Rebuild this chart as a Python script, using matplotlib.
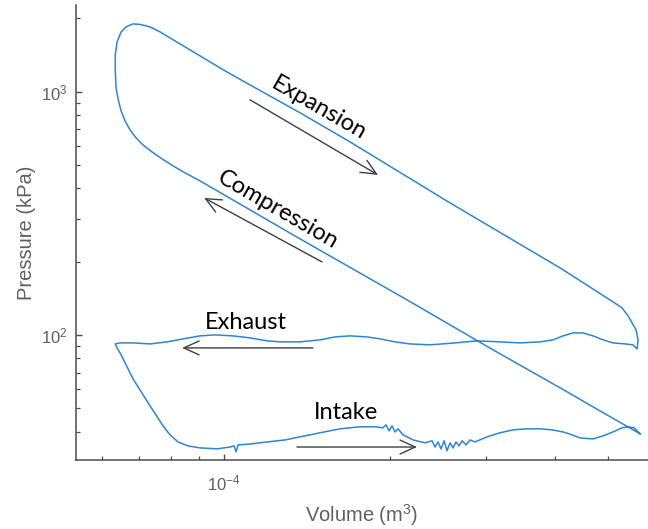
import matplotlib
matplotlib.use("Agg")
import matplotlib.pyplot as plt
from matplotlib.ticker import LogLocator, NullFormatter, LogFormatterSciNotation

plt.rcParams['mathtext.fontset'] = 'custom'
plt.rcParams['mathtext.rm'] = 'Liberation Sans'
plt.rcParams['mathtext.it'] = 'Liberation Sans:italic'
plt.rcParams['font.family'] = ['Liberation Sans', 'DejaVu Sans']

# ---- data: P-V loop (volume in 1e-4 m^3, pressure in kPa), cycle order ----
comp_V = [5.707, 4.827, 4.083, 3.084, 2.151, 1.375, 0.9045, 0.8493, 0.8078, 0.7714,
          0.7396, 0.7122, 0.6918, 0.6746, 0.6607, 0.6498, 0.642, 0.636, 0.634, 0.634,
          0.639, 0.650, 0.6634, 0.6831]
comp_P = [39.2, 48.7, 60.6, 86.8, 139.3, 248.0, 429.5, 463.3, 495.1, 528.9,
          565.1, 603.8, 645.2, 696.0, 757.9, 833.1, 924.7, 1045.5, 1228.0, 1415.0,
          1601.0, 1760.0, 1845.0, 1898.0]

exp_V = [0.6831, 0.7034, 0.7335, 0.7648, 0.7977, 0.8493, 0.9045, 1.0042, 1.115, 1.375,
         1.695, 2.576, 4.083, 5.096, 5.292, 5.427, 5.612, 5.660, 5.636]
exp_P = [1898.0, 1889.0, 1845.0, 1760.0, 1662.0, 1527.0, 1402.0, 1217.0, 1065.0, 818.0,
         621.0, 348.7, 188.5, 136.7, 129.1, 119.7, 104.9, 95.4, 87.6]

exh_V = [5.541, 5.360, 5.096, 4.888, 4.688, 4.495, 4.311, 4.135, 3.965, 3.754,
         3.453, 3.176, 2.884, 2.630, 2.369, 2.179, 2.046, 1.921, 1.820, 1.695,
         1.591, 1.495, 1.375, 1.264, 1.197, 1.115, 1.038, 0.963, 0.9045, 0.842,
         0.788, 0.7335, 0.6831, 0.647, 0.634]
exh_P = [91.0, 91.8, 92.7, 95.4, 99.06, 101.9, 101.9, 99.06, 95.4, 93.6,
         92.7, 93.6, 94.5, 92.7, 91.0, 91.8, 93.6, 96.3, 98.1, 99.06,
         98.1, 95.4, 93.6, 93.6, 94.5, 97.2, 99.06, 100.0, 99.06, 96.3,
         93.6, 91.8, 92.7, 92.7, 91.8]

int_V = [0.6390, 0.6498, 0.6831, 0.7335, 0.7745, 0.7977, 0.8249, 0.8603, 0.9045, 0.9711,
         1.0254, 1.0428, 1.0515, 1.0604, 1.115, 1.197, 1.2911, 1.375, 1.4951, 1.625,
         1.767, 1.8817, 1.945, 1.9706, 1.9953, 2.0206, 2.0461, 2.0720, 2.1158, 2.206,
         2.3203, 2.3889, 2.4189, 2.4495, 2.4804, 2.5119, 2.5436, 2.576, 2.6084, 2.6413,
         2.6748, 2.7085, 2.7542, 2.8007, 2.8601, 3.007, 3.176, 3.354, 3.5563, 3.754,
         3.9486, 4.135, 4.2933, 4.439, 4.688, 4.888, 5.096, 5.292, 5.427, 5.565, 5.707]
int_P = [88.4, 82.8, 65.95, 51.07, 42.27, 38.82, 36.3, 34.96, 34.31, 34.0,
         34.6, 34.96, 33.05, 35.3, 35.6, 36.3, 37.0, 38.1, 39.6, 41.1,
         41.9, 41.9, 41.5, 42.67, 40.3, 42.27, 39.9, 41.1, 38.82, 37.0,
         36.0, 36.7, 34.6, 36.3, 34.0, 36.7, 33.4, 36.0, 34.31, 36.3,
         34.96, 36.7, 35.3, 37.0, 36.3, 38.1, 39.6, 40.7, 41.1, 41.1,
         40.7, 39.9, 38.82, 37.7, 37.36, 38.45, 39.9, 41.5, 41.9, 41.5, 39.2]

V_all = [v * 1e-4 for v in comp_V + exp_V + exh_V + int_V]
P_all = comp_P + exp_P + exh_P + int_P

# ---- figure ----
fig = plt.figure(figsize=(6.48, 5.29), dpi=100)
ax = fig.add_axes([76/648, 69/529, (648-76)/648, (460-5)/529])

ax.plot(V_all, P_all, color='#2f86d0', lw=1.1, solid_joinstyle='round')

ax.set_xscale('log')
ax.set_yscale('log')
ax.set_xlim(5.38e-5, 5.9e-4)
ax.set_ylim(30.6, 2270)

for s in ['top', 'right']:
    ax.spines[s].set_visible(False)
for s in ['left', 'bottom']:
    ax.spines[s].set_color('#4d4d4d')
    ax.spines[s].set_linewidth(1.1)

ax.xaxis.set_major_locator(LogLocator(base=10))
ax.yaxis.set_major_locator(LogLocator(base=10))
ax.xaxis.set_minor_locator(LogLocator(base=10, subs=range(2, 10)))
ax.yaxis.set_minor_locator(LogLocator(base=10, subs=range(2, 10)))
ax.xaxis.set_major_formatter(LogFormatterSciNotation())
ax.yaxis.set_major_formatter(LogFormatterSciNotation())
ax.xaxis.set_minor_formatter(NullFormatter())
ax.yaxis.set_minor_formatter(NullFormatter())

ax.tick_params(which='both', direction='in', color='#4d4d4d', labelcolor='#606060',
               labelsize=12)
ax.tick_params(which='major', length=4, width=1)
ax.tick_params(which='minor', length=3, width=0.9)
ax.tick_params(axis='x', pad=10)
ax.tick_params(axis='y', pad=6)

ax.set_xlabel('Volume (m$^3$)', fontsize=14.5, color='#606060', labelpad=6)
ax.set_ylabel('Pressure (kPa)', fontsize=14.5, color='#606060', labelpad=4)

# ---- annotations ----
afont = dict(family=['Lato', 'DejaVu Sans'], fontsize=17, color='black')
ax.text(1.49e-4, 857, 'Expansion', rotation=-30, ha='center', va='center', **afont)
ax.text(1.254e-4, 326.5, 'Compression', rotation=-30, ha='center', va='center', **afont)
ax.text(1.096e-4, 112.0, 'Exhaust', ha='center', va='center', **afont)
ax.text(1.667e-4, 47.9, 'Intake', ha='center', va='center', **afont)

aprops = dict(arrowstyle='->,head_length=0.55,head_width=0.25', color='#404040',
              lw=1.0, shrinkA=0, shrinkB=0, mutation_scale=20)
ax.annotate('', xy=(1.905e-4, 454.6), xytext=(1.115e-4, 925), arrowprops=aprops)
ax.annotate('', xy=(0.920e-4, 365.7), xytext=(1.507e-4, 199.5), arrowprops=aprops)
ax.annotate('', xy=(0.839e-4, 88.4), xytext=(1.451e-4, 88.4), arrowprops=aprops)
ax.annotate('', xy=(2.243e-4, 34.6), xytext=(1.357e-4, 34.6), arrowprops=aprops)

fig.savefig('out.png', dpi=100)
